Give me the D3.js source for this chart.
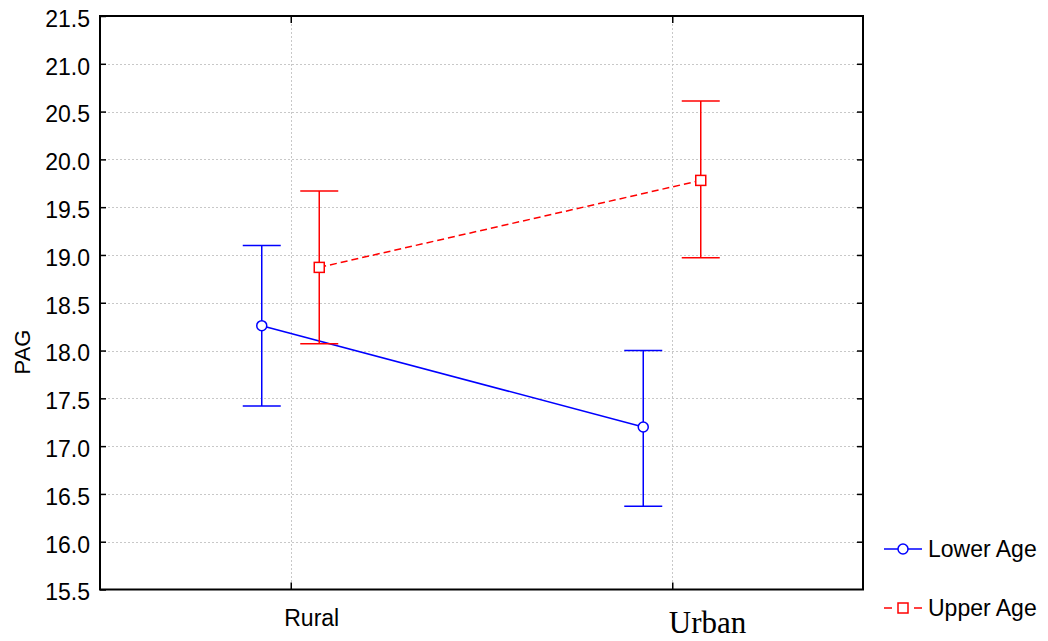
<!DOCTYPE html>
<html>
<head>
<meta charset="utf-8">
<script src="https://cdn.jsdelivr.net/npm/d3@7"></script>
<style>
  body { margin: 0; background: #fff; }
  svg { display: block; }
</style>
</head>
<body>
<svg id="chart" width="1048" height="641" font-family="Liberation Sans, Arial, sans-serif"></svg>
<script>
// Group means with lower / upper interval bounds for PAG by residence
const categories = ["Rural", "Urban"];
const seriesNames = ["Lower Age", "Upper Age"];
const lowerMean = [18.26, 17.20];
const lowerLow = [17.42, 16.37];
const lowerHigh = [19.10, 18.00];
const upperMean = [18.87, 19.78];
const upperLow = [18.07, 18.97];
const upperHigh = [19.67, 20.61];
const yTicks = [15.5, 16.0, 16.5, 17.0, 17.5, 18.0, 18.5, 19.0, 19.5, 20.0, 20.5, 21.0, 21.5];

const series = [
  { name: seriesNames[0], mean: lowerMean, lo: lowerLow, hi: lowerHigh, color: "#0000ff", dash: null, marker: "circle", shift: -29 },
  { name: seriesNames[1], mean: upperMean, lo: upperLow, hi: upperHigh, color: "#ff0000", dash: "7,4", marker: "square", shift: 28.5 }
];

const svg = d3.select("#chart");
const plotL = 100, plotR = 863, plotT = 16, plotB = 589.5;

const x = d3.scalePoint().domain(categories).range([plotL, plotR]).padding(0.5);
const y = d3.scaleLinear().domain([15.5, 21.5]).range([plotB, plotT]);

// dotted grid
const grid = svg.append("g").attr("stroke", "#c8c8c8").attr("stroke-width", 1).attr("stroke-dasharray", "2,2");
grid.selectAll("line.h").data(yTicks.slice(1, -1)).join("line")
  .attr("x1", plotL).attr("x2", plotR)
  .attr("y1", d => Math.round(y(d)) + 0.5).attr("y2", d => Math.round(y(d)) + 0.5);
grid.selectAll("line.v").data(categories).join("line")
  .attr("x1", d => Math.round(x(d)) + 0.5).attr("x2", d => Math.round(x(d)) + 0.5)
  .attr("y1", plotT).attr("y2", plotB);

// axes with inward ticks
const fmt = d3.format(".1f");
const yAxisL = svg.append("g").attr("transform", `translate(${plotL},0)`)
  .call(d3.axisLeft(y).tickValues(yTicks).tickFormat(fmt).tickSizeInner(-6).tickSizeOuter(0).tickPadding(10));
const yAxisR = svg.append("g").attr("transform", `translate(${plotR},0)`)
  .call(d3.axisRight(y).tickValues(yTicks.slice(1, -1)).tickFormat("").tickSizeInner(-6).tickSizeOuter(0));
const xAxisB = svg.append("g").attr("transform", `translate(0,${plotB})`)
  .call(d3.axisBottom(x).tickSizeInner(-7).tickSizeOuter(0));
const xAxisT = svg.append("g").attr("transform", `translate(0,${plotT})`)
  .call(d3.axisTop(x).tickFormat("").tickSizeInner(-7).tickSizeOuter(0));

[yAxisL, yAxisR, xAxisB, xAxisT].forEach(g => {
  g.attr("font-family", null).attr("font-size", null);
  g.select(".domain").remove();
  g.selectAll(".tick line").attr("stroke", "#000").attr("stroke-width", 1.5);
});
yAxisL.selectAll("text").attr("font-size", 23).attr("dy", "0.45em").attr("fill", "#000");
xAxisB.selectAll("text")
  .attr("fill", "#000")
  .attr("text-anchor", "start")
  .attr("font-family", (d, i) => i === 0 ? "Liberation Sans, Arial, sans-serif" : "Liberation Serif, Times New Roman, serif")
  .attr("font-size", (d, i) => i === 0 ? 23 : 31)
  .attr("dx", (d, i) => i === 0 ? -7 : -4)
  .attr("dy", 0)
  .attr("y", (d, i) => i === 0 ? 36 : 43.5);

// frame
svg.append("rect").attr("x", plotL).attr("y", plotT).attr("width", plotR - plotL).attr("height", plotB - plotT)
  .attr("fill", "none").attr("stroke", "#000").attr("stroke-width", 2);

// y label
svg.append("text").attr("transform", `translate(30,352) rotate(-90)`)
  .attr("text-anchor", "middle").attr("font-size", 22).attr("fill", "#000").text("PAG");

// series: lines, error bars, markers
const capHalf = 19;
series.forEach(s => {
  const g = svg.append("g");
  const pts = categories.map((c, i) => ({ cx: x(c) + s.shift, m: s.mean[i], lo: s.lo[i], hi: s.hi[i] }));
  g.append("path")
    .attr("d", d3.line().x(d => d.cx).y(d => y(d.m))(pts))
    .attr("fill", "none").attr("stroke", s.color).attr("stroke-width", 1.5)
    .attr("stroke-dasharray", s.dash);
  pts.forEach(p => {
    g.append("line").attr("x1", p.cx).attr("x2", p.cx).attr("y1", y(p.hi)).attr("y2", y(p.lo))
      .attr("stroke", s.color).attr("stroke-width", 1.5);
    [p.hi, p.lo].forEach(v => {
      g.append("line").attr("x1", p.cx - capHalf).attr("x2", p.cx + capHalf).attr("y1", y(v)).attr("y2", y(v))
        .attr("stroke", s.color).attr("stroke-width", 1.5);
    });
    if (s.marker === "circle") {
      g.append("circle").attr("cx", p.cx).attr("cy", y(p.m)).attr("r", 5)
        .attr("fill", "#fff").attr("stroke", s.color).attr("stroke-width", 1.5);
    } else {
      g.append("rect").attr("x", p.cx - 5).attr("y", y(p.m) - 5).attr("width", 10).attr("height", 10)
        .attr("fill", "#fff").attr("stroke", s.color).attr("stroke-width", 1.5);
    }
  });
});

// legend
const legend = svg.append("g");
series.forEach((s, i) => {
  const ly = 549 + i * 59;
  const lx = 884;
  const lg = legend.append("g");
  if (s.dash) {
    lg.append("line").attr("x1", lx).attr("x2", lx + 8).attr("y1", ly).attr("y2", ly).attr("stroke", s.color).attr("stroke-width", 1.5);
    lg.append("line").attr("x1", lx + 30).attr("x2", lx + 38).attr("y1", ly).attr("y2", ly).attr("stroke", s.color).attr("stroke-width", 1.5);
  } else {
    lg.append("line").attr("x1", lx).attr("x2", lx + 38).attr("y1", ly).attr("y2", ly).attr("stroke", s.color).attr("stroke-width", 1.5);
  }
  if (s.marker === "circle") {
    lg.append("circle").attr("cx", lx + 19).attr("cy", ly).attr("r", 5)
      .attr("fill", "#fff").attr("stroke", s.color).attr("stroke-width", 1.5);
  } else {
    lg.append("rect").attr("x", lx + 14).attr("y", ly - 5).attr("width", 10).attr("height", 10)
      .attr("fill", "#fff").attr("stroke", s.color).attr("stroke-width", 1.5);
  }
  lg.append("text").attr("x", lx + 44).attr("y", ly + 8).attr("font-size", 23).attr("fill", "#000").text(s.name);
});
</script>
</body>
</html>
